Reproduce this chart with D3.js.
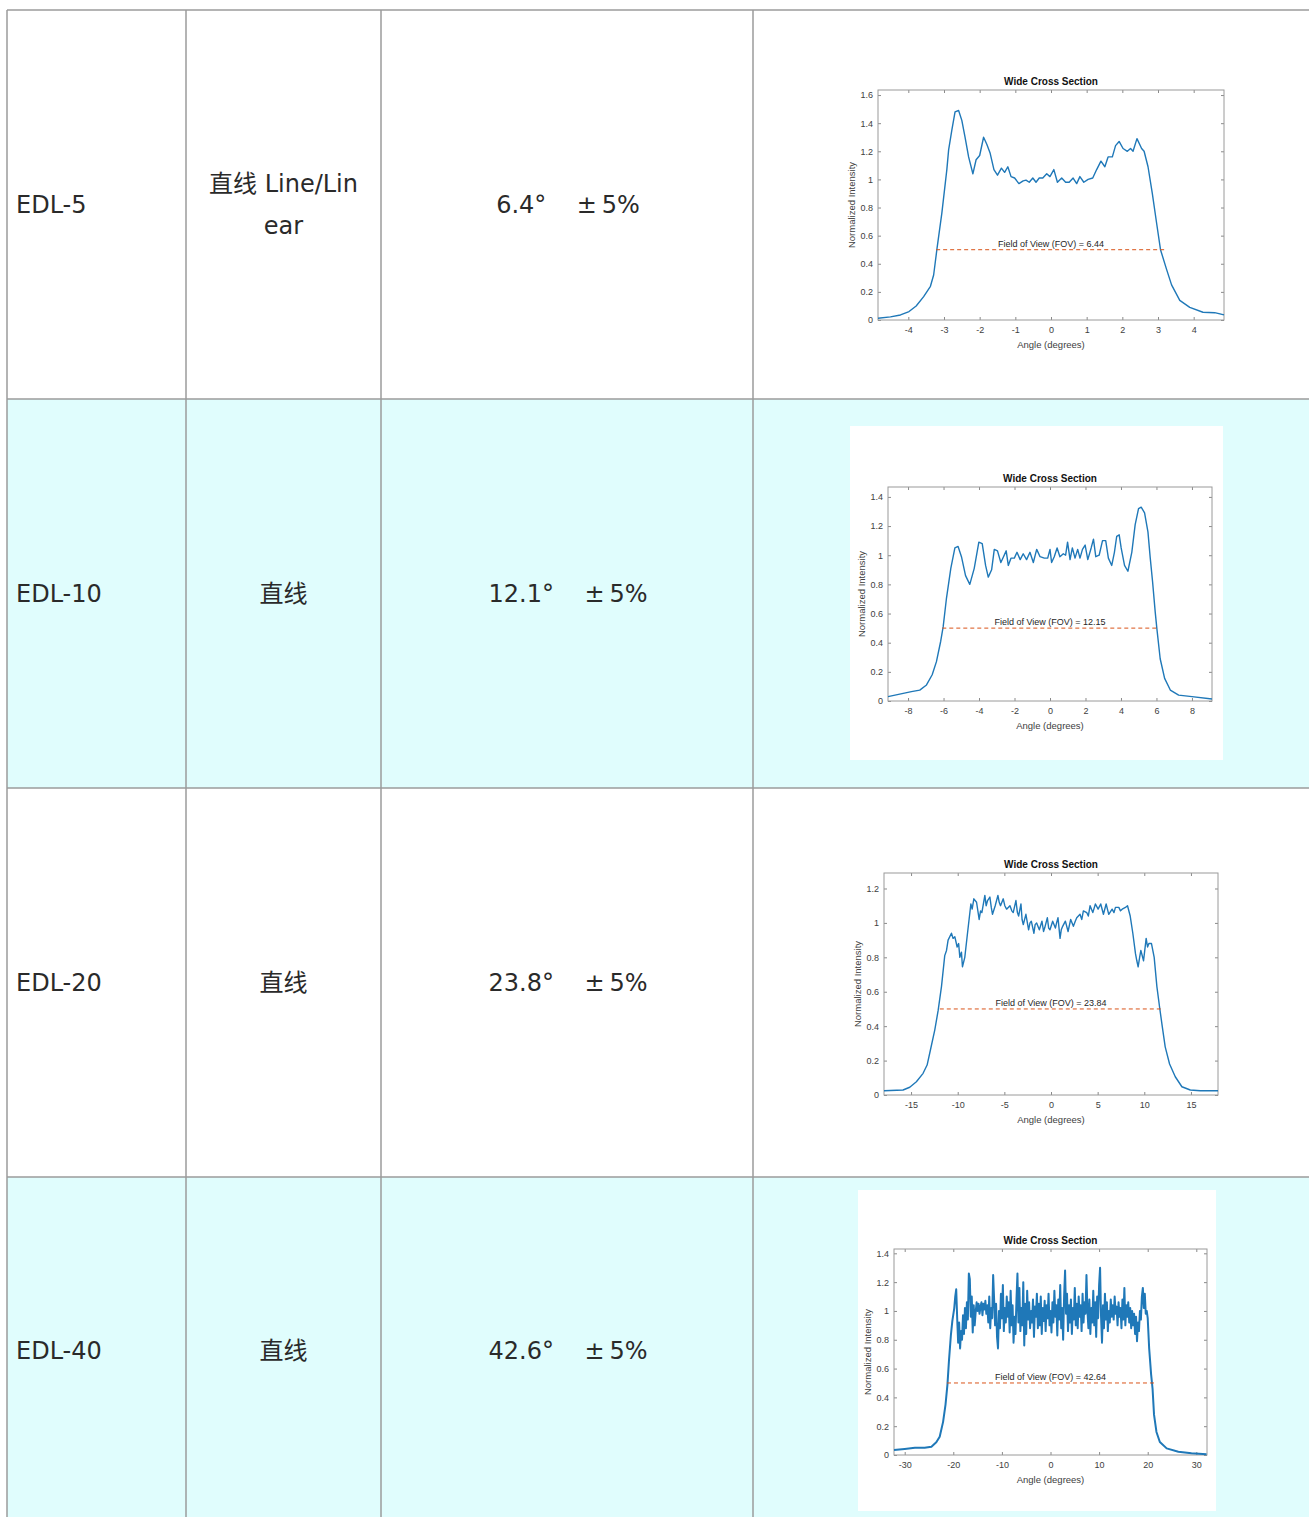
<html>
<head>
<style>
  body { margin: 0; background: #fff; }
  .cell { font-family: "DejaVu Sans", "Noto Sans CJK SC", sans-serif; font-size: 24px; fill: #2a2a2a; }
  .plot text { font-family: "Liberation Sans", Arial, sans-serif; }
</style>
<script src="https://d3js.org/d3.v7.min.js"></script>
</head>
<body>
<svg width="1309" height="1517"></svg>
<script>

// table contents
var models = ["EDL-5", "EDL-10", "EDL-20", "EDL-40"];
var beamTypes = [["直线 Line/Lin", "ear"], ["直线"], ["直线"], ["直线"]];
var fovAngles = ["6.4°", "12.1°", "23.8°", "42.6°"];
var tolerance = "±\u20095%";

// measured profiles: [angle (deg), normalized intensity]
var edl5Profile = [[-4.85,0.012],[-4.5,0.022],[-4.22,0.036],[-3.98,0.06],[-3.78,0.1],[-3.57,0.166],[-3.38,0.24],[-3.29,0.32],[-3.2,0.5],[-3.06,0.76],
  [-2.92,1.07],[-2.87,1.21],[-2.78,1.35],[-2.69,1.48],[-2.59,1.49],[-2.5,1.42],[-2.41,1.3],[-2.31,1.16],[-2.19,1.04],[-2.1,1.14],
  [-2.0,1.17],[-1.89,1.3],[-1.8,1.25],[-1.71,1.19],[-1.6,1.07],[-1.5,1.03],[-1.39,1.08],[-1.3,1.05],[-1.21,1.09],[-1.12,1.02],
  [-1.02,1.01],[-0.9,0.97],[-0.78,0.99],[-0.7,0.995],[-0.61,0.98],[-0.51,1.01],[-0.42,0.98],[-0.33,1.01],[-0.23,1.01],[-0.12,1.04],
  [-0.03,1.02],[0.08,1.07],[0.18,0.98],[0.3,1.01],[0.41,0.98],[0.51,0.98],[0.62,1.01],[0.72,0.97],[0.81,1.02],[0.92,0.98],
  [1.04,1.0],[1.17,1.01],[1.28,1.07],[1.4,1.13],[1.51,1.09],[1.6,1.16],[1.72,1.16],[1.81,1.24],[1.91,1.27],[2.02,1.22],
  [2.14,1.2],[2.23,1.22],[2.3,1.2],[2.41,1.29],[2.54,1.22],[2.61,1.2],[2.72,1.09],[2.84,0.9],[2.96,0.69],[3.07,0.5],
  [3.24,0.36],[3.38,0.25],[3.61,0.14],[3.89,0.09],[4.26,0.055],[4.59,0.052],[4.85,0.036]];

var edl10Profile = [[-9.13,0.03],[-7.81,0.064],[-7.34,0.075],[-6.96,0.11],[-6.64,0.18],[-6.4,0.27],[-6.16,0.41],[-6.02,0.51],[-5.84,0.7],[-5.59,0.91],
  [-5.36,1.05],[-5.18,1.06],[-4.99,0.99],[-4.76,0.86],[-4.52,0.8],[-4.27,0.91],[-4.01,1.09],[-3.82,1.08],[-3.63,0.93],[-3.48,0.85],
  [-3.29,0.9],[-3.14,1.04],[-2.96,1.03],[-2.77,0.95],[-2.62,0.99],[-2.47,1.03],[-2.35,0.93],[-2.2,0.98],[-2.01,0.98],[-1.86,1.02],
  [-1.68,0.97],[-1.51,1.01],[-1.32,0.97],[-1.13,1.02],[-0.94,0.95],[-0.75,1.04],[-0.56,0.99],[-0.32,0.98],[-0.13,0.98],[0.0,1.04],
  [0.09,0.95],[0.24,0.99],[0.4,1.05],[0.56,0.99],[0.75,1.01],[0.88,1.0],[0.99,1.09],[1.13,0.97],[1.26,1.05],[1.41,0.98],
  [1.56,1.04],[1.69,0.98],[1.83,1.04],[1.98,1.07],[2.13,0.97],[2.32,1.05],[2.45,1.11],[2.58,0.99],[2.77,1.0],[2.96,1.1],
  [3.14,1.1],[3.29,0.98],[3.48,0.93],[3.63,1.02],[3.76,1.13],[3.9,1.14],[4.01,1.05],[4.2,0.93],[4.39,0.89],[4.61,1.02],
  [4.8,1.21],[4.99,1.32],[5.14,1.33],[5.33,1.29],[5.52,1.16],[5.65,0.98],[5.78,0.82],[5.93,0.61],[6.02,0.5],[6.21,0.29],
  [6.46,0.155],[6.78,0.075],[7.25,0.04],[8.0,0.03],[9.13,0.014]];

var edl20Profile = [[-17.9,0.025],[-15.86,0.029],[-15.14,0.045],[-14.43,0.077],[-13.71,0.126],[-13.28,0.174],[-12.93,0.26],[-12.46,0.377],[-12.1,0.49],[-11.74,0.63],
  [-11.39,0.81],[-11.2,0.84],[-11.03,0.9],[-10.67,0.94],[-10.5,0.91],[-10.31,0.92],[-10.06,0.86],[-9.9,0.88],[-9.77,0.8],[-9.6,0.83],[-9.49,0.745],
  [-9.24,0.8],[-8.95,0.94],[-8.59,1.11],[-8.45,1.08],[-8.27,1.14],[-7.98,1.12],[-7.7,1.02],[-7.55,1.07],[-7.41,1.06],[-7.09,1.16],
  [-6.95,1.1],[-6.8,1.13],[-6.55,1.15],[-6.4,1.09],[-6.27,1.05],[-5.98,1.1],[-5.69,1.16],[-5.55,1.12],[-5.41,1.1],[-5.12,1.14],
  [-4.95,1.1],[-4.76,1.08],[-4.4,1.1],[-4.2,1.07],[-4.05,1.06],[-3.76,1.13],[-3.6,1.06],[-3.47,1.04],[-3.22,1.11],[-3.1,1.02],
  [-2.97,0.99],[-2.69,1.05],[-2.4,0.96],[-2.25,1.0],[-2.11,1.01],[-1.83,0.94],[-1.7,0.99],[-1.54,1.0],[-1.25,0.96],[-0.97,1.01],
  [-0.8,0.95],[-0.68,0.97],[-0.39,1.03],[-0.25,0.97],[-0.11,0.96],[0.18,1.01],[0.47,0.97],[0.6,1.0],[0.75,1.03],[0.97,0.91],
  [1.1,0.96],[1.25,0.98],[1.54,1.01],[1.83,0.95],[2.11,1.02],[2.4,0.98],[2.6,1.01],[2.76,1.03],[3.11,1.05],[3.3,1.02],
  [3.47,1.07],[3.83,1.06],[4.0,1.04],[4.19,1.1],[4.48,1.06],[4.76,1.11],[5.05,1.08],[5.33,1.11],[5.62,1.05],[5.91,1.11],
  [6.19,1.05],[6.55,1.08],[6.75,1.06],[6.91,1.09],[7.27,1.09],[7.45,1.07],[7.63,1.08],[7.98,1.09],[8.2,1.1],[8.49,1.04],
  [8.77,0.94],[9.06,0.82],[9.2,0.78],[9.34,0.745],[9.5,0.8],[9.63,0.84],[9.92,0.78],[10.2,0.91],[10.35,0.86],[10.49,0.88],
  [10.77,0.88],[11.06,0.8],[11.35,0.63],[11.64,0.51],[11.92,0.4],[12.24,0.28],[12.71,0.18],[13.32,0.106],[14.03,0.048],[14.93,0.029],
  [16.0,0.025],[17.9,0.025]];

var edl40Profile = [[-32.2,0.035],[-30,0.042],[-27.9,0.05],[-25.9,0.05],[-24.5,0.058],[-23.5,0.088],[-22.8,0.127],[-22.1,0.23],[-21.6,0.35],[-21.2,0.49],
  [-20.9,0.65],[-20.5,0.83],[-20.2,0.93],[-19.8,1.02],[-19.6,1.1],[-19.4,1.15],[-19.2,0.95],[-19.0,0.78],[-18.8,0.92],[-18.6,0.74],
  [-18.4,0.86],[-18.2,0.8],[-18.0,0.97],[-17.8,0.84],[-17.6,1.02],[-17.4,0.88],[-17.2,1.06],[-17.0,0.94],[-16.8,1.26],[-16.6,1.22],
  [-16.4,0.96],[-16.2,1.1],[-16.0,0.85],[-15.8,1.04],[-15.6,0.9],[-15.4,0.99],[-15.2,1.06],[-15.0,1.0],[-14.8,1.05],[-14.6,0.98],
  [-14.4,1.03],[-14.2,1.06],[-14.0,0.97],[-13.8,1.05],[-13.6,1.01],[-13.4,1.07],[-13.2,0.98],[-13.0,1.04],[-12.8,0.92],[-12.6,1.1],
  [-12.4,0.88],[-12.2,1.02],[-12.0,0.95],[-11.8,1.25],[-11.6,1.08],[-11.4,0.9],[-11.2,1.05],[-11.0,0.82],[-10.8,0.74],[-10.6,1.0],
  [-10.4,0.88],[-10.2,1.12],[-10.0,0.95],[-9.8,1.18],[-9.6,0.86],[-9.4,1.02],[-9.2,0.92],[-9.0,1.1],[-8.8,0.96],[-8.6,1.06],
  [-8.4,0.85],[-8.2,1.14],[-8.0,0.9],[-7.8,1.04],[-7.6,0.78],[-7.4,0.96],[-7.2,0.84],[-7.0,1.08],[-6.8,1.26],[-6.6,0.92],
  [-6.4,1.16],[-6.2,0.86],[-6.0,1.02],[-5.8,0.9],[-5.6,1.2],[-5.4,0.76],[-5.2,1.05],[-5.0,0.84],[-4.8,1.14],[-4.6,0.94],
  [-4.4,1.06],[-4.2,0.88],[-4.0,1.0],[-3.8,0.92],[-3.6,1.08],[-3.4,0.82],[-3.2,1.03],[-3.0,0.96],[-2.8,1.12],[-2.6,0.88],
  [-2.4,1.05],[-2.2,0.9],[-2.0,1.1],[-1.8,0.84],[-1.6,1.02],[-1.4,0.93],[-1.2,1.07],[-1.0,0.86],[-0.8,1.04],[-0.6,0.95],
  [-0.4,1.12],[-0.2,0.9],[0.0,1.0],[0.2,0.85],[0.4,1.06],[0.6,0.92],[0.8,1.14],[1.0,0.96],[1.2,1.04],[1.4,0.83],
  [1.6,1.08],[1.8,0.94],[2.0,1.18],[2.2,0.88],[2.4,1.02],[2.6,0.8],[2.8,1.1],[3.0,1.28],[3.2,0.98],[3.4,1.12],
  [3.6,0.86],[3.8,1.04],[4.0,0.92],[4.2,1.08],[4.4,0.84],[4.6,1.02],[4.8,0.94],[5.0,1.16],[5.2,0.9],[5.4,1.05],
  [5.6,0.88],[5.8,1.1],[6.0,0.96],[6.2,1.04],[6.4,0.86],[6.6,1.12],[6.8,0.92],[7.0,1.06],[7.2,0.98],[7.4,1.25],
  [7.6,1.0],[7.8,0.88],[8.0,1.08],[8.2,0.84],[8.4,1.02],[8.6,0.92],[8.8,1.14],[9.0,0.9],[9.2,1.06],[9.4,0.82],
  [9.6,1.1],[9.8,0.95],[10.0,1.18],[10.2,1.3],[10.4,0.96],[10.6,0.78],[10.8,1.04],[11.0,0.88],[11.2,1.12],[11.4,0.94],
  [11.6,1.06],[11.8,0.86],[12.0,1.0],[12.2,0.92],[12.4,1.08],[12.6,0.96],[12.8,1.04],[13.0,0.94],[13.2,1.1],[13.4,0.98],
  [13.6,1.03],[13.8,0.9],[14.0,1.06],[14.2,0.96],[14.4,1.02],[14.6,0.88],[14.8,1.08],[15.0,0.94],[15.2,1.16],[15.4,0.9],
  [15.6,1.04],[15.8,0.96],[16.0,1.06],[16.2,0.92],[16.4,1.02],[16.6,0.88],[16.8,1.0],[17.0,0.9],[17.2,0.98],[17.4,0.84],
  [17.6,0.96],[17.8,0.79],[18.0,0.92],[18.2,0.86],[18.4,1.0],[18.6,0.94],[18.8,1.1],[19.0,1.16],[19.2,1.02],[19.4,1.12],
  [19.6,0.98],[19.8,1.0],[20.0,0.95],[20.3,0.74],[20.7,0.56],[21.0,0.46],[21.3,0.28],[21.8,0.16],[22.5,0.09],[23.9,0.046],
  [26.3,0.023],[29,0.012],[32.1,0.005]];

// half-maximum crossings and the FOV values written on each plot
var fovEdges = [[-3.22, 3.22], [-6.07, 6.08], [-11.92, 11.92], [-21.3, 21.3]];
var fovValues = ["6.44", "12.15", "23.84", "42.64"];

// axis ranges and ticks
var xDomains = [[-4.85, 4.85], [-9.13, 9.13], [-17.9, 17.9], [-32.2, 32.2]];
var yDomains = [[0, 1.636], [0, 1.468], [0, 1.29], [0, 1.43]];
var xTickValues = [[-4, -3, -2, -1, 0, 1, 2, 3, 4], [-8, -6, -4, -2, 0, 2, 4, 6, 8], [-15, -10, -5, 0, 5, 10, 15], [-30, -20, -10, 0, 10, 20, 30]];
var yTickValues = [[0, 0.2, 0.4, 0.6, 0.8, 1, 1.2, 1.4, 1.6], [0, 0.2, 0.4, 0.6, 0.8, 1, 1.2, 1.4], [0, 0.2, 0.4, 0.6, 0.8, 1, 1.2], [0, 0.2, 0.4, 0.6, 0.8, 1, 1.2, 1.4]];

var profiles = [edl5Profile, edl10Profile, edl20Profile, edl40Profile];

var svg = d3.select("svg");

// ---- table ----
var colX = [7, 186, 381, 753, 1309];
var rowY = [10, 399, 788, 1177, 1566];
var shade = "#e0fdfd";

models.forEach(function(m, i) {
  svg.append("rect")
    .attr("x", colX[0]).attr("y", rowY[i])
    .attr("width", colX[4] - colX[0]).attr("height", rowY[i + 1] - rowY[i])
    .attr("fill", i % 2 == 1 ? shade : "#fff");
});

// plot frames (image boxes) drawn before grid lines
var frames = [null, {x: 850, y: 426, w: 373, h: 334}, null, {x: 858, y: 1190, w: 358, h: 321}];
frames.forEach(function(f) {
  if (!f) return;
  svg.append("rect").attr("x", f.x).attr("y", f.y).attr("width", f.w).attr("height", f.h).attr("fill", "#fff");
});

var grid = svg.append("g").attr("stroke", "#9b9b9b").attr("stroke-width", 1.5);
colX.slice(0, 4).forEach(function(x) {
  grid.append("line").attr("x1", x).attr("x2", x).attr("y1", rowY[0]).attr("y2", 1517);
});
rowY.slice(0, 4).forEach(function(y) {
  grid.append("line").attr("x1", colX[0]).attr("x2", 1309).attr("y1", y).attr("y2", y);
});

models.forEach(function(m, i) {
  var cy = (rowY[i] + rowY[i + 1]) / 2;
  if (i == 3) cy = 1351;
  svg.append("text").attr("class", "cell")
    .attr("x", 16).attr("y", cy).attr("dominant-baseline", "central").text(m);

  var lines = beamTypes[i];
  lines.forEach(function(t, k) {
    svg.append("text").attr("class", "cell")
      .attr("x", (colX[1] + colX[2]) / 2)
      .attr("y", cy + (k - (lines.length - 1) / 2) * 42)
      .attr("text-anchor", "middle").attr("dominant-baseline", "central")
      .text(t);
  });

  svg.append("text").attr("class", "cell")
    .attr("x", (colX[2] + colX[3]) / 2 + 1).attr("y", cy)
    .attr("text-anchor", "middle").attr("dominant-baseline", "central")
    .text(fovAngles[i] + "\u00a0\u00a0\u00a0\u00a0" + tolerance);
});

// ---- embedded intensity plots ----
var plotBoxes = [
  {l: 878, r: 1224, t: 90, b: 320},
  {l: 888, r: 1212, t: 487, b: 701},
  {l: 884, r: 1218, t: 873, b: 1095},
  {l: 894, r: 1207, t: 1249, b: 1455}
];

function fmt(d) { return String(Math.round(d * 10) / 10); }

function styleAxis(a) {
  a.select(".domain").remove();
  a.selectAll(".tick line").attr("stroke", "#8a8a8a");
  a.selectAll(".tick text").attr("fill", "#404040").attr("font-size", "9px");
}

function drawProfile(i) {
  var box = plotBoxes[i];
  var x = d3.scaleLinear().domain(xDomains[i]).range([box.l, box.r]);
  var y = d3.scaleLinear().domain(yDomains[i]).range([box.b, box.t]);
  var g = svg.append("g").attr("class", "plot");

  g.append("rect")
    .attr("x", box.l).attr("y", box.t)
    .attr("width", box.r - box.l).attr("height", box.b - box.t)
    .attr("fill", "#fff");

  var xa = g.append("g").attr("transform", "translate(0," + box.b + ")")
    .call(d3.axisBottom(x).tickValues(xTickValues[i]).tickSize(-3).tickPadding(7).tickFormat(fmt));
  styleAxis(xa);
  var xt = g.append("g").attr("transform", "translate(0," + box.t + ")")
    .call(d3.axisTop(x).tickValues(xTickValues[i]).tickSize(-3).tickFormat(""));
  styleAxis(xt);
  var ya = g.append("g").attr("transform", "translate(" + box.l + ",0)")
    .call(d3.axisLeft(y).tickValues(yTickValues[i]).tickSize(-3).tickPadding(5).tickFormat(fmt));
  styleAxis(ya);
  var yr = g.append("g").attr("transform", "translate(" + box.r + ",0)")
    .call(d3.axisRight(y).tickValues(yTickValues[i]).tickSize(-3).tickFormat(""));
  styleAxis(yr);

  g.append("rect")
    .attr("x", box.l).attr("y", box.t)
    .attr("width", box.r - box.l).attr("height", box.b - box.t)
    .attr("fill", "none").attr("stroke", "#9a9a9a").attr("stroke-width", 1);

  var line = d3.line().x(function(d) { return x(d[0]); }).y(function(d) { return y(d[1]); });
  g.append("path")
    .datum(profiles[i])
    .attr("d", line)
    .attr("fill", "none")
    .attr("stroke", "#1f78b8")
    .attr("stroke-width", i == 3 ? 2 : 1.4)
    .attr("stroke-linejoin", "round");

  // FOV half maximum line
  g.append("line")
    .attr("x1", x(fovEdges[i][0])).attr("x2", x(fovEdges[i][1]))
    .attr("y1", y(0.5)).attr("y2", y(0.5))
    .attr("stroke", "#d95319").attr("stroke-width", 1)
    .attr("stroke-dasharray", "4,3");

  g.append("text")
    .attr("x", x(0)).attr("y", y(0.5) - 3)
    .attr("text-anchor", "middle").attr("font-size", "9px").attr("fill", "#262626")
    .text("Field of View (FOV) = " + fovValues[i]);

  g.append("text")
    .attr("x", (box.l + box.r) / 2).attr("y", box.t - 5)
    .attr("text-anchor", "middle").attr("font-size", "10px").attr("font-weight", "bold")
    .attr("fill", "#111")
    .text("Wide Cross Section");

  g.append("text")
    .attr("x", (box.l + box.r) / 2).attr("y", box.b + 25)
    .attr("text-anchor", "middle").attr("dominant-baseline", "middle")
    .attr("font-size", "9.5px").attr("fill", "#404040")
    .text("Angle (degrees)");

  g.append("text")
    .attr("transform", "translate(" + (box.l - 26) + "," + ((box.t + box.b) / 2) + ") rotate(-90)")
    .attr("text-anchor", "middle").attr("dominant-baseline", "middle")
    .attr("font-size", "9.5px").attr("fill", "#404040")
    .text("Normalized Intensity");
}

for (var i = 0; i < 4; i++) drawProfile(i);

</script>
</body>
</html>
